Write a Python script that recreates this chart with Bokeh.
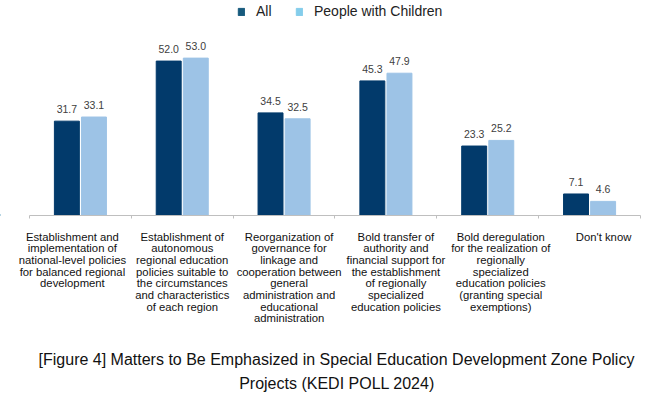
from bokeh.plotting import figure
from bokeh.models import (ColumnDataSource, LabelSet, Label, Range1d, LinearAxis,
                          FixedTicker, Legend, LegendItem)
from bokeh.core.properties import value
from bokeh.transform import dodge
from bokeh.embed import file_html
from bokeh.resources import INLINE

categories = [
    "Establishment and\nimplementation of\nnational-level policies\nfor balanced regional\ndevelopment",
    "Establishment of\nautonomous\nregional education\npolicies suitable to\nthe circumstances\nand characteristics\nof each region",
    "Reorganization of\ngovernance for\nlinkage and\ncooperation between\ngeneral\nadministration and\neducational\nadministration",
    "Bold transfer of\nauthority and\nfinancial support for\nthe establishment\nof regionally\nspecialized\neducation policies",
    "Bold deregulation\nfor the realization of\nregionally\nspecialized\neducation policies\n(granting special\nexemptions)",
    "Don't know",
]
all_vals = [31.7, 52.0, 34.5, 45.3, 23.3, 7.1]
child_vals = [33.1, 53.0, 32.5, 47.9, 25.2, 4.6]
series_names = ["All", "People with Children"]
caption_lines = [
    "[Figure 4] Matters to Be Emphasized in Special Education Development Zone Policy",
    "Projects (KEDI POLL 2024)",
]

FONT = "Arial"
DARK = "#023A6B"
LIGHT = "#9DC3E6"
LEG_DARK = "#175A7D"
LEG_LIGHT = "#84CDEB"

W, H = 650, 393
PX_X = 101.83           # px per category
PX_Y = 2.96             # px per percent
LEFT, BASE = 29, 214.5  # axis start / baseline in page px
LINE_H = 11.7

n = len(categories)
xpos = [i + 0.5 for i in range(n)]
label_dx = [-8, 0, 5, 10, 13, 14]

src = ColumnDataSource(dict(
    x=xpos, all=all_vals, child=child_vals,
    all_txt=[f"{v:.1f}" for v in all_vals],
    child_txt=[f"{v:.1f}" for v in child_vals],
))

# one row per label line, so every line is centred on its own
lx, ltxt, ldx, ldy = [], [], [], []
for i, cat in enumerate(categories):
    for j, line in enumerate(cat.split("\n")):
        lx.append(xpos[i])
        ltxt.append(line)
        ldx.append(label_dx[i])
        ldy.append(-15.5 - LINE_H * j)
lines_src = ColumnDataSource(dict(x=lx, y=[0] * len(lx), text=ltxt, dx=ldx, dy=ldy))

x_range = Range1d(-LEFT / PX_X, (W - LEFT) / PX_X)
y_range = Range1d(-(H - BASE) / PX_Y, BASE / PX_Y)

p = figure(width=W, height=H, output_backend="svg", toolbar_location=None,
           x_range=x_range, y_range=y_range,
           x_axis_type=None, y_axis_type=None,
           min_border_left=0, min_border_right=0, min_border_top=0,
           min_border_bottom=0)
p.outline_line_color = None
p.xgrid.visible = False
p.ygrid.visible = False

p.vbar(x=dodge("x", -0.133), top="all", width=0.245,
       bottom=0, source=src, fill_color=DARK, line_color=DARK)
p.vbar(x=dodge("x", 0.133), top="child", width=0.245,
       bottom=0, source=src, fill_color=LIGHT, line_color=LIGHT)

# legend swatches (legend colours differ slightly from the bars)
leg_src = ColumnDataSource(dict(x=[-5.0], top=[0.0]))
r1 = p.vbar(x="x", top="top", width=0.01, source=leg_src,
            fill_color=LEG_DARK, line_color=LEG_DARK)
r2 = p.vbar(x="x", top="top", width=0.01, source=leg_src,
            fill_color=LEG_LIGHT, line_color=LEG_LIGHT)

ticks = list(range(n + 1))
xaxis = LinearAxis(ticker=FixedTicker(ticks=ticks), fixed_location=0,
                   bounds=(0, n))
xaxis.major_label_overrides = {t: "" for t in ticks}
xaxis.major_label_standoff = 0
xaxis.axis_line_color = "#BFBFBF"
xaxis.major_tick_line_color = "#BFBFBF"
xaxis.major_tick_in = 0
xaxis.major_tick_out = 3
xaxis.minor_tick_line_color = None
p.add_layout(xaxis, "below")

common = dict(text_font=value(FONT), text_font_size=value("10.5px"),
              text_color="#404040", text_align="center",
              text_baseline="alphabetic", y_offset=8)
p.add_layout(LabelSet(x=dodge("x", -0.133), y="all",
                      text="all_txt", source=src, **common))
p.add_layout(LabelSet(x=dodge("x", 0.133), y="child",
                      text="child_txt", source=src, **common))

p.add_layout(LabelSet(x="x", y="y", text="text", source=lines_src,
                      x_offset="dx", y_offset="dy", text_font=value(FONT),
                      text_font_size=value("11.3px"), text_color="#111111",
                      text_align="center", text_baseline="top"))

p.add_layout(Label(x=n / 2, y=0, x_offset=1.5, y_offset=-144.5,
                   text=caption_lines[0], text_font=FONT, text_font_size="16px",
                   text_color="#111111", text_align="center",
                   text_baseline="alphabetic"))
p.add_layout(Label(x=n / 2, y=0, x_offset=2, y_offset=-168.2,
                   text=caption_lines[1], text_font=FONT, text_font_size="16px",
                   text_color="#111111", text_align="center",
                   text_baseline="alphabetic"))

legend = Legend(items=[LegendItem(label=series_names[0], renderers=[r1]),
                       LegendItem(label=series_names[1], renderers=[r2])],
                orientation="horizontal", location=(237, H - 19),
                glyph_width=8, glyph_height=9, label_standoff=11, spacing=19,
                padding=0, margin=0, border_line_color=None,
                background_fill_alpha=0,
                label_text_font=FONT, label_text_font_size="14px",
                label_text_color="#222222", label_height=14)
p.add_layout(legend)

open("out.html", "w").write(file_html(p, INLINE))
